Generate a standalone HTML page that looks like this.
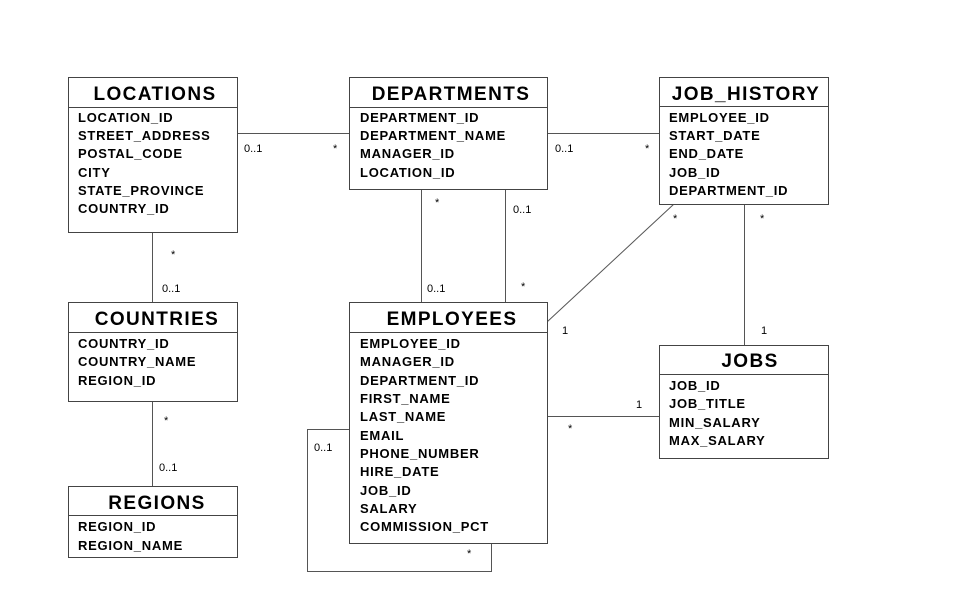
<!DOCTYPE html>
<html><head><meta charset="utf-8"><style>
html,body{margin:0;padding:0;background:#fff;}
svg{display:block;}
.h{font-family:"Liberation Sans",sans-serif;font-size:19px;font-weight:bold;text-anchor:middle;fill:#000;letter-spacing:1.4px;}
.f{font-family:"Liberation Sans",sans-serif;font-size:13px;font-weight:bold;fill:#000;letter-spacing:0.75px;}
.l{font-family:"Liberation Sans",sans-serif;font-size:11px;fill:#000;}
rect{fill:#fff;stroke:#444;stroke-width:1;}
line,polyline{stroke:#555;stroke-width:1;fill:none;}
</style></head><body>
<svg width="964" height="605" viewBox="0 0 964 605" xmlns="http://www.w3.org/2000/svg">
<line x1="237" y1="133.5" x2="349" y2="133.5"/>
<line x1="547" y1="133.5" x2="659" y2="133.5"/>
<line x1="152.5" y1="232" x2="152.5" y2="302"/>
<line x1="152.5" y1="401" x2="152.5" y2="486"/>
<line x1="421.5" y1="190" x2="421.5" y2="302"/>
<line x1="505.5" y1="190" x2="505.5" y2="302"/>
<line x1="674" y1="204" x2="547" y2="322"/>
<line x1="744.5" y1="204" x2="744.5" y2="345"/>
<line x1="547" y1="416.5" x2="659" y2="416.5"/>
<polyline points="349,429.5 307.5,429.5 307.5,571.5 491.5,571.5 491.5,543"/>

<rect x="68.5" y="77.5" width="169" height="155"/>
<line x1="68.5" y1="107.5" x2="237.5" y2="107.5" style="stroke:#444"/>
<text class="h" x="155" y="100">LOCATIONS</text>
<text class="f" x="78" y="122">LOCATION_ID</text>
<text class="f" x="78" y="140">STREET_ADDRESS</text>
<text class="f" x="78" y="158">POSTAL_CODE</text>
<text class="f" x="78" y="177">CITY</text>
<text class="f" x="78" y="195">STATE_PROVINCE</text>
<text class="f" x="78" y="213">COUNTRY_ID</text>

<rect x="349.5" y="77.5" width="198" height="112"/>
<line x1="349.5" y1="107.5" x2="547.5" y2="107.5" style="stroke:#444"/>
<text class="h" x="451" y="100">DEPARTMENTS</text>
<text class="f" x="360" y="122">DEPARTMENT_ID</text>
<text class="f" x="360" y="140">DEPARTMENT_NAME</text>
<text class="f" x="360" y="158">MANAGER_ID</text>
<text class="f" x="360" y="177">LOCATION_ID</text>

<rect x="659.5" y="77.5" width="169" height="127"/>
<line x1="659.5" y1="106.5" x2="828.5" y2="106.5" style="stroke:#444"/>
<text class="h" x="746" y="100">JOB_HISTORY</text>
<text class="f" x="669" y="122">EMPLOYEE_ID</text>
<text class="f" x="669" y="140">START_DATE</text>
<text class="f" x="669" y="158">END_DATE</text>
<text class="f" x="669" y="177">JOB_ID</text>
<text class="f" x="669" y="195">DEPARTMENT_ID</text>

<rect x="68.5" y="302.5" width="169" height="99"/>
<line x1="68.5" y1="332.5" x2="237.5" y2="332.5" style="stroke:#444"/>
<text class="h" x="157" y="325">COUNTRIES</text>
<text class="f" x="78" y="348">COUNTRY_ID</text>
<text class="f" x="78" y="366">COUNTRY_NAME</text>
<text class="f" x="78" y="385">REGION_ID</text>

<rect x="349.5" y="302.5" width="198" height="241"/>
<line x1="349.5" y1="332.5" x2="547.5" y2="332.5" style="stroke:#444"/>
<text class="h" x="452" y="325">EMPLOYEES</text>
<text class="f" x="360" y="348">EMPLOYEE_ID</text>
<text class="f" x="360" y="366">MANAGER_ID</text>
<text class="f" x="360" y="385">DEPARTMENT_ID</text>
<text class="f" x="360" y="403">FIRST_NAME</text>
<text class="f" x="360" y="421">LAST_NAME</text>
<text class="f" x="360" y="440">EMAIL</text>
<text class="f" x="360" y="458">PHONE_NUMBER</text>
<text class="f" x="360" y="476">HIRE_DATE</text>
<text class="f" x="360" y="495">JOB_ID</text>
<text class="f" x="360" y="513">SALARY</text>
<text class="f" x="360" y="531">COMMISSION_PCT</text>

<rect x="68.5" y="486.5" width="169" height="71"/>
<line x1="68.5" y1="515.5" x2="237.5" y2="515.5" style="stroke:#444"/>
<text class="h" x="157" y="509">REGIONS</text>
<text class="f" x="78" y="531">REGION_ID</text>
<text class="f" x="78" y="550">REGION_NAME</text>

<rect x="659.5" y="345.5" width="169" height="113"/>
<line x1="659.5" y1="374.5" x2="828.5" y2="374.5" style="stroke:#444"/>
<text class="h" x="750" y="367">JOBS</text>
<text class="f" x="669" y="390">JOB_ID</text>
<text class="f" x="669" y="408">JOB_TITLE</text>
<text class="f" x="669" y="427">MIN_SALARY</text>
<text class="f" x="669" y="445">MAX_SALARY</text>

<text class="l" x="244" y="152">0..1</text>
<text class="l" x="333" y="152">*</text>
<text class="l" x="555" y="152">0..1</text>
<text class="l" x="645" y="152">*</text>
<text class="l" x="171" y="258">*</text>
<text class="l" x="162" y="292">0..1</text>
<text class="l" x="164" y="424">*</text>
<text class="l" x="159" y="471">0..1</text>
<text class="l" x="435" y="206">*</text>
<text class="l" x="427" y="292">0..1</text>
<text class="l" x="513" y="213">0..1</text>
<text class="l" x="521" y="290">*</text>
<text class="l" x="673" y="222">*</text>
<text class="l" x="760" y="222">*</text>
<text class="l" x="562" y="334">1</text>
<text class="l" x="761" y="334">1</text>
<text class="l" x="636" y="408">1</text>
<text class="l" x="568" y="432">*</text>
<text class="l" x="314" y="451">0..1</text>
<text class="l" x="467" y="557">*</text>
</svg>
</body></html>
